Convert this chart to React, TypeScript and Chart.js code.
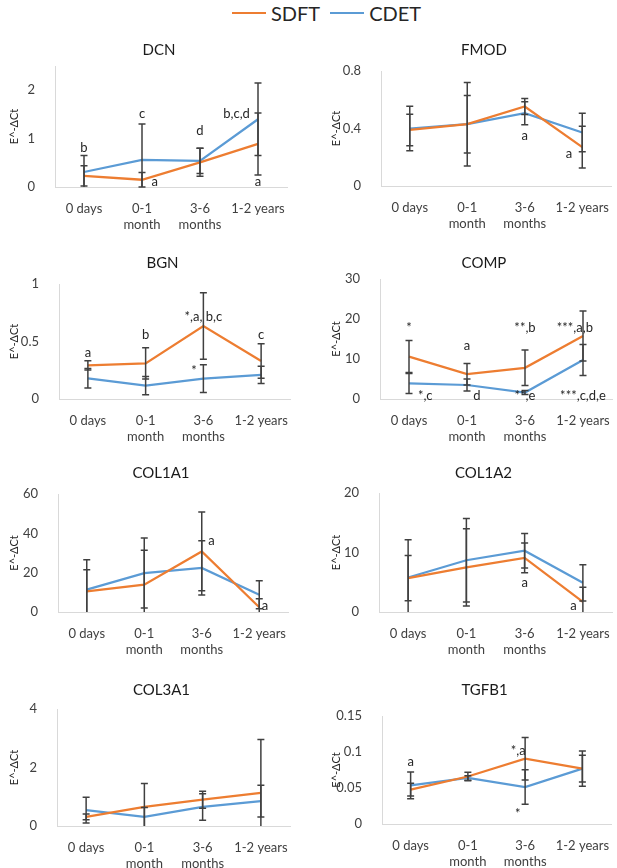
import { useEffect, useRef } from 'react'
import { Chart, registerables } from 'chart.js'
import type { Plugin } from 'chart.js'

Chart.register(...registerables)

document.body.style.margin = '0'

const ORANGE = '#ed7d31'
const BLUE = '#5b9bd5'
const TEXT = '#262626'
const TICK = '#404040'
const FONT = 'Lato, "Open Sans", sans-serif'

const CATEGORIES = ['0 days', ['0-1', 'month'], ['3-6', 'months'], '1-2 years']

// DCN
const dcnSdft = [0.23, 0.15, 0.51, 0.89]
const dcnSdftErr = [0.21, 0.15, 0.29, 0.64]
const dcnCdet = [0.31, 0.56, 0.54, 1.4]
const dcnCdetErr = [0.34, 0.74, 0.26, 0.75]
const dcnTicks = [0, 1, 2]

// FMOD
const fmodSdft = [0.39, 0.43, 0.553, 0.27]
const fmodSdftErr = [0.11, 0.2, 0.055, 0.145]
const fmodCdet = [0.4, 0.43, 0.506, 0.372]
const fmodCdetErr = [0.155, 0.29, 0.08, 0.134]
const fmodTicks = [0, 0.4, 0.8]

// BGN
const bgnSdft = [0.293, 0.31, 0.635, 0.33]
const bgnSdftErr = [0.04, 0.135, 0.29, 0.15]
const bgnCdet = [0.18, 0.116, 0.177, 0.209]
const bgnCdetErr = [0.085, 0.08, 0.12, 0.075]
const bgnTicks = [0, 0.5, 1]

// COMP
const compSdft = [10.6, 6.2, 7.8, 15.75]
const compSdftErr = [4.0, 2.7, 4.45, 6.25]
const compCdet = [3.9, 3.5, 1.6, 9.75]
const compCdetErr = [2.5, 1.5, 0.5, 3.9]
const compTicks = [0, 10, 20, 30]

// COL1A1
const col1a1Sdft = [10.5, 13.9, 30.8, 2.4]
const col1a1SdftErr = [11, 17.5, 20, 4.4]
const col1a1Cdet = [11.4, 19.8, 22.4, 8.8]
const col1a1CdetErr = [15.2, 17.8, 13.8, 7.1]
const col1a1Ticks = [0, 20, 40, 60]

// COL1A2
const col1a2Sdft = [5.7, 7.5, 9.1, 1.7]
const col1a2SdftErr = [3.8, 6.5, 2.5, 2.45]
const col1a2Cdet = [5.8, 8.7, 10.3, 4.9]
const col1a2CdetErr = [6.35, 7.0, 2.9, 3.05]
const col1a2Ticks = [0, 10, 20]

// COL3A1
const col3a1Sdft = [0.31, 0.65, 0.9, 1.13]
const col3a1SdftErr = [0.1, 0.8, 0.29, 1.83]
const col3a1Cdet = [0.54, 0.31, 0.65, 0.85]
const col3a1CdetErr = [0.44, 0.32, 0.45, 0.54]
const col3a1Ticks = [0, 2, 4]

// TGFB1
const tgfb1Sdft = [0.0477, 0.066, 0.0907, 0.0769]
const tgfb1SdftErr = [0.0088, 0.006, 0.0295, 0.0245]
const tgfb1Cdet = [0.0537, 0.0639, 0.0514, 0.0769]
const tgfb1CdetErr = [0.0185, 0.003, 0.024, 0.0185]
const tgfb1Ticks = [0, 0.05, 0.1, 0.15]

// significance labels: [category index, value, text]
type Note = [number, number, string]
const dcnNotes: Note[] = [
  [0, 0.8, 'b'], [1, 1.52, 'c'], [2, 1.16, 'd'], [2.63, 1.52, 'b,c,d'],
  [1.22, 0.1, 'a'], [3, 0.1, 'a'],
]
const fmodNotes: Note[] = [[2, 0.35, 'a'], [2.77, 0.225, 'a']]
const bgnNotes: Note[] = [
  [0, 0.4, 'a'], [1, 0.555, 'b'], [2, 0.715, '*,a, b,c'], [3, 0.555, 'c'], [1.84, 0.245, '*'],
]
const compNotes: Note[] = [
  [0, 17.75, '*'], [0.28, 0.83, '*,c'], [1, 13.25, 'a'], [1.17, 0.83, 'd'],
  [2, 17.9, '**,b'], [2, 0.83, '**,e'], [2.86, 17.9, '***,a,b'], [3, 0.83, '***,c,d,e'],
]
const col1a1Notes: Note[] = [[2.17, 36.4, 'a'], [3.1, 3.4, 'a']]
const col1a2Notes: Note[] = [[2, 4.9, 'a'], [2.84, 1.1, 'a']]
const col3a1Notes: Note[] = []
const tgfb1Notes: Note[] = [[0, 0.086, 'a'], [1.88, 0.1023, '*,a'], [1.87, 0.0135, '*']]

interface PanelDef {
  title: string
  sdft: number[]
  sdftErr: number[]
  cdet: number[]
  cdetErr: number[]
  ticks: number[]
  max: number
  notes: Note[]
  canvas: [number, number, number, number] // left, top, width, height
  plot: [number, number, number, number] // left, top, right, bottom (page px)
}

const COLS = [[0, 300], [322, 295]]
const ROWS = [[30, 213], [243, 210], [453, 217], [670, 198]]
const box = (c: number, r: number): [number, number, number, number] => [COLS[c][0], ROWS[r][0], COLS[c][1], ROWS[r][1]]

const PANELS: PanelDef[] = [
  { title: 'DCN', sdft: dcnSdft, sdftErr: dcnSdftErr, cdet: dcnCdet, cdetErr: dcnCdetErr, ticks: dcnTicks, max: 2.5, notes: dcnNotes, canvas: box(0, 0), plot: [55, 66, 287, 187] },
  { title: 'FMOD', sdft: fmodSdft, sdftErr: fmodSdftErr, cdet: fmodCdet, cdetErr: fmodCdetErr, ticks: fmodTicks, max: 0.8, notes: fmodNotes, canvas: box(1, 0), plot: [381, 71, 611, 186] },
  { title: 'BGN', sdft: bgnSdft, sdftErr: bgnSdftErr, cdet: bgnCdet, cdetErr: bgnCdetErr, ticks: bgnTicks, max: 1, notes: bgnNotes, canvas: box(0, 1), plot: [59, 284, 290, 399] },
  { title: 'COMP', sdft: compSdft, sdftErr: compSdftErr, cdet: compCdet, cdetErr: compCdetErr, ticks: compTicks, max: 30, notes: compNotes, canvas: box(1, 1), plot: [380, 279, 612, 399] },
  { title: 'COL1A1', sdft: col1a1Sdft, sdftErr: col1a1SdftErr, cdet: col1a1Cdet, cdetErr: col1a1CdetErr, ticks: col1a1Ticks, max: 60, notes: col1a1Notes, canvas: box(0, 2), plot: [58, 494, 288, 612] },
  { title: 'COL1A2', sdft: col1a2Sdft, sdftErr: col1a2SdftErr, cdet: col1a2Cdet, cdetErr: col1a2CdetErr, ticks: col1a2Ticks, max: 20, notes: col1a2Notes, canvas: box(1, 2), plot: [379, 493, 612, 612] },
  { title: 'COL3A1', sdft: col3a1Sdft, sdftErr: col3a1SdftErr, cdet: col3a1Cdet, cdetErr: col3a1CdetErr, ticks: col3a1Ticks, max: 4, notes: col3a1Notes, canvas: box(0, 3), plot: [57, 709, 290, 826] },
  { title: 'TGFB1', sdft: tgfb1Sdft, sdftErr: tgfb1SdftErr, cdet: tgfb1Cdet, cdetErr: tgfb1CdetErr, ticks: tgfb1Ticks, max: 0.15, notes: tgfb1Notes, canvas: box(1, 3), plot: [382, 716, 611, 824] },
]

function Panel({ p }: { p: PanelDef }) {
  const canvasRef = useRef<HTMLCanvasElement>(null)
  const [cx, cy, cw, ch] = p.canvas

  useEffect(() => {
    if (!canvasRef.current) return
    const [pl, pt, pr, pb] = p.plot
    const errs = [p.sdftErr, p.cdetErr]

    const extras: Plugin<'line'> = {
      id: 'extras',
      afterDatasetsDraw(chart) {
        const { ctx, chartArea, scales } = chart
        const xs = scales.x
        const ys = scales.y
        ctx.save()
        // error bars
        ctx.strokeStyle = '#404040'
        ctx.lineWidth = 1.5
        chart.data.datasets.forEach((ds, di) => {
          ;(ds.data as number[]).forEach((v, i) => {
            const e = errs[di][i]
            const x = xs.getPixelForValue(i)
            const yTop = ys.getPixelForValue(v + e)
            const yLow = ys.getPixelForValue(v - e)
            const y1 = Math.max(yTop, chartArea.top)
            const y2 = Math.min(yLow, chartArea.bottom)
            ctx.beginPath()
            ctx.moveTo(x, y1)
            ctx.lineTo(x, y2)
            if (yTop >= chartArea.top) {
              ctx.moveTo(x - 3.5, yTop)
              ctx.lineTo(x + 3.5, yTop)
            }
            if (yLow <= chartArea.bottom) {
              ctx.moveTo(x - 3.5, yLow)
              ctx.lineTo(x + 3.5, yLow)
            }
            ctx.stroke()
          })
        })
        // significance labels
        ctx.fillStyle = TEXT
        ctx.font = `13px ${FONT}`
        ctx.textAlign = 'center'
        ctx.textBaseline = 'middle'
        p.notes.forEach(([c, v, t]) => {
          ctx.fillText(t, xs.getPixelForValue(c), ys.getPixelForValue(v))
        })
        // panel title
        ctx.font = `15px ${FONT}`
        ctx.fillStyle = '#1a1a1a'
        ctx.fillText(p.title, (chartArea.left + chartArea.right) / 2 - 12, 20)
        ctx.restore()
      },
    }

    const chart = new Chart(canvasRef.current, {
      type: 'line',
      data: {
        labels: CATEGORIES,
        datasets: [
          { label: 'SDFT', data: p.sdft, borderColor: ORANGE, backgroundColor: ORANGE, borderWidth: 2.25, pointRadius: 0, tension: 0 },
          { label: 'CDET', data: p.cdet, borderColor: BLUE, backgroundColor: BLUE, borderWidth: 2.25, pointRadius: 0, tension: 0 },
        ],
      },
      options: {
        responsive: false,
        maintainAspectRatio: false,
        animation: false,
        layout: {
          padding: { left: 0, top: pt - cy, right: cx + cw - pr, bottom: 0 },
        },
        plugins: {
          legend: { display: false },
          tooltip: { enabled: false },
        },
        scales: {
          x: {
            offset: true,
            grid: { display: false, offset: true },
            border: { display: true, color: '#d9d9d9', width: 1 },
            ticks: {
              color: TICK,
              font: { family: FONT, size: 13 },
              padding: 6,
              maxRotation: 0,
              minRotation: 0,
              autoSkip: false,
            },
            afterFit: (scale: any) => {
              scale.height = cy + ch - pb
            },
          },
          y: {
            min: 0,
            max: p.max,
            grid: { display: false },
            border: { display: true, color: '#d9d9d9', width: 1 },
            afterBuildTicks: (scale: any) => {
              scale.ticks = p.ticks.map(v => ({ value: v }))
            },
            ticks: {
              color: TICK,
              font: { family: FONT, size: 13 },
              padding: 12,
              callback: (v: any) => String(v),
            },
            title: {
              display: true,
              text: 'E^-ΔCt',
              color: TEXT,
              font: { family: FONT, size: 11 },
              padding: { top: 8, bottom: 0 },
            },
            afterFit: (scale: any) => {
              scale.width = pl - cx
            },
          },
        },
      },
      plugins: [extras],
    })

    return () => {
      chart.destroy()
    }
  }, [p])

  return (
    <canvas
      ref={canvasRef}
      width={cw}
      height={ch}
      style={{ position: 'absolute', left: cx, top: cy, width: cw, height: ch }}
    />
  )
}

function Legend() {
  const item = (color: string, label: string) => (
    <div style={{ display: 'flex', alignItems: 'center', marginRight: 10 }}>
      <div style={{ width: 34, height: 2.5, background: color, marginRight: 5 }} />
      <span style={{ fontSize: 20, color: TEXT, fontFamily: FONT }}>{label}</span>
    </div>
  )
  return (
    <div
      style={{
        position: 'absolute',
        top: 0,
        left: 232,
        height: 26,
        display: 'flex',
        alignItems: 'center',
      }}
    >
      {item(ORANGE, 'SDFT')}
      {item(BLUE, 'CDET')}
    </div>
  )
}

export default function App() {
  return (
    <div style={{ position: 'relative', width: 617, height: 868, background: '#fff', overflow: 'hidden' }}>
      <Legend />
      {PANELS.map(p => (
        <Panel key={p.title} p={p} />
      ))}
    </div>
  )
}
